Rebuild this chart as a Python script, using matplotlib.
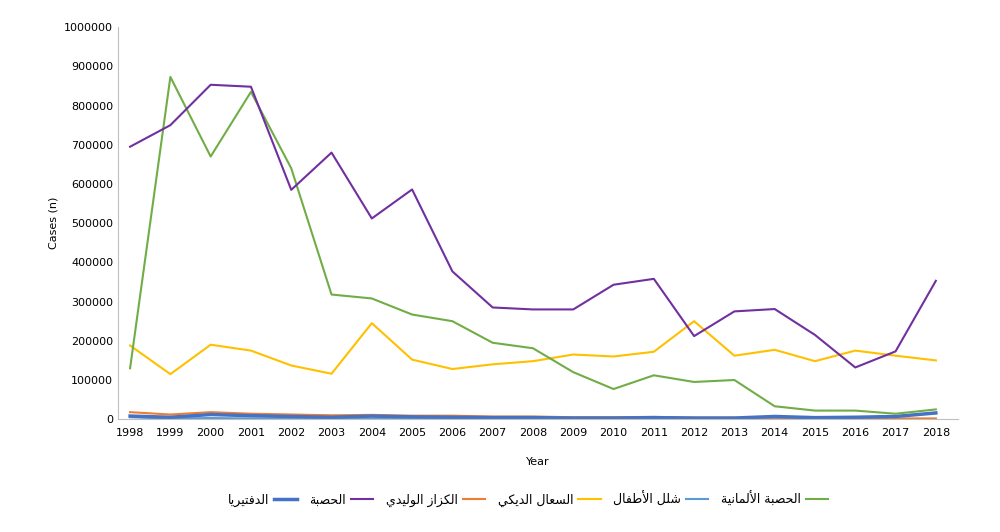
import matplotlib
matplotlib.use("Agg")
import matplotlib.pyplot as plt
from matplotlib.lines import Line2D
from matplotlib.ticker import FuncFormatter

years = list(range(1998, 2019))
measles = [695000, 750000, 853000, 848000, 585000, 680000, 512000, 586000, 377000, 285000, 280000,
           280000, 343000, 358000, 212000, 275000, 281000, 215000, 132000, 173000, 353000]
rubella = [130000, 873000, 670000, 835000, 640000, 318000, 308000, 267000, 250000, 195000, 181000,
           120000, 77000, 112000, 95000, 100000, 33000, 22000, 22000, 14000, 25000]
pertussis = [188000, 115000, 190000, 175000, 137000, 116000, 245000, 152000, 128000, 140000, 148000,
             165000, 160000, 172000, 250000, 162000, 177000, 148000, 175000, 162000, 150000]
tetanus = [18000, 12000, 18000, 14000, 12000, 10000, 11000, 9000, 9000, 7000, 7000,
           5000, 5000, 6000, 4000, 4000, 4000, 3000, 2000, 2000, 2000]
diphtheria = [8000, 5000, 12000, 9000, 7000, 5000, 8000, 6000, 5000, 4000, 4000,
              3000, 3000, 4000, 3000, 3000, 7000, 4000, 5000, 7000, 16000]
polio = [5000, 2000, 3000, 2000, 1500, 1500, 1500, 1000, 1000, 1000, 1000,
         800, 800, 700, 600, 600, 500, 400, 400, 300, 300]

labels = ["الدفتيريا", "الحصبة", "الكزاز الوليدي", "السعال الديكي", "شلل الأطفال", "الحصبة الألمانية"]

# minimal arabic shaping (presentation forms), matplotlib has no bidi support
FORMS = {
    'ا': (0xFE8D, 0xFE8E, None, None), 'أ': (0xFE83, 0xFE84, None, None),
    'ب': (0xFE8F, 0xFE90, 0xFE91, 0xFE92), 'ة': (0xFE93, 0xFE94, None, None),
    'ت': (0xFE95, 0xFE96, 0xFE97, 0xFE98), 'ح': (0xFEA1, 0xFEA2, 0xFEA3, 0xFEA4),
    'د': (0xFEA9, 0xFEAA, None, None), 'ر': (0xFEAD, 0xFEAE, None, None),
    'ز': (0xFEAF, 0xFEB0, None, None), 'س': (0xFEB1, 0xFEB2, 0xFEB3, 0xFEB4),
    'ش': (0xFEB5, 0xFEB6, 0xFEB7, 0xFEB8), 'ص': (0xFEB9, 0xFEBA, 0xFEBB, 0xFEBC),
    'ط': (0xFEC1, 0xFEC2, 0xFEC3, 0xFEC4), 'ع': (0xFEC9, 0xFECA, 0xFECB, 0xFECC),
    'ف': (0xFED1, 0xFED2, 0xFED3, 0xFED4), 'ك': (0xFED9, 0xFEDA, 0xFEDB, 0xFEDC),
    'ل': (0xFEDD, 0xFEDE, 0xFEDF, 0xFEE0), 'م': (0xFEE1, 0xFEE2, 0xFEE3, 0xFEE4),
    'ن': (0xFEE5, 0xFEE6, 0xFEE7, 0xFEE8), 'و': (0xFEED, 0xFEEE, None, None),
    'ي': (0xFEF1, 0xFEF2, 0xFEF3, 0xFEF4),
    'LA': (0xFEFB, 0xFEFC, None, None), 'LAH': (0xFEF7, 0xFEF8, None, None),
}


def shape(s):
    toks = []
    i = 0
    while i < len(s):
        if s[i] == 'ل' and i + 1 < len(s) and s[i + 1] in 'اأ':
            toks.append('LA' if s[i + 1] == 'ا' else 'LAH')
            i += 2
        else:
            toks.append(s[i])
            i += 1
    out = []
    for k, t in enumerate(toks):
        if t not in FORMS:
            out.append(t)
            continue
        f = FORMS[t]
        prev = toks[k - 1] if k > 0 else None
        nxt = toks[k + 1] if k + 1 < len(toks) else None
        jp = prev in FORMS and FORMS[prev][2] is not None
        jn = f[2] is not None and nxt in FORMS
        if jp and jn:
            c = f[3]
        elif jp:
            c = f[1]
        elif jn:
            c = f[2]
        else:
            c = f[0]
        out.append(chr(c))
    return ''.join(out)[::-1]


fig = plt.figure(figsize=(10, 5.32), dpi=100)
ax = fig.add_axes([0.118, 0.212, 0.84, 0.737])

ax.plot(years, polio, color='#5b9bd5', lw=1.5)
ax.plot(years, tetanus, color='#ed7d31', lw=1.5)
ax.plot(years, diphtheria, color='#4472c4', lw=2.5)
ax.plot(years, pertussis, color='#ffc000', lw=1.5)
ax.plot(years, rubella, color='#70ad47', lw=1.5)
ax.plot(years, measles, color='#7030a0', lw=1.5)

ax.set_xlim(1997.7, 2018.55)
ax.set_ylim(0, 1000000)
ax.set_xticks(years)
ax.set_yticks(range(0, 1000001, 100000))
ax.yaxis.set_major_formatter(FuncFormatter(lambda v, p: '%d' % v))
ax.tick_params(labelsize=8, length=0)
ax.tick_params(axis='x', pad=6)
for side in ['top', 'right']:
    ax.spines[side].set_visible(False)
for side in ['left', 'bottom']:
    ax.spines[side].set_color('#bfbfbf')
ax.set_xlabel('Year', fontsize=8, labelpad=14)
ax.set_ylabel('Cases (n)', fontsize=8)

colors = ['#4472c4', '#7030a0', '#ed7d31', '#ffc000', '#5b9bd5', '#70ad47']
handles = [Line2D([], [], color=c, lw=2.5 if i == 0 else 1.5) for i, c in enumerate(colors)]
fig.legend(handles, [shape(l) for l in labels], loc='center', bbox_to_anchor=(0.528, 0.062),
           ncol=6, frameon=False, markerfirst=False, handlelength=1.8,
           columnspacing=1.0, handletextpad=0.4, prop={'family': 'DejaVu Sans', 'size': 9})

fig.savefig('out.png', dpi=100)
